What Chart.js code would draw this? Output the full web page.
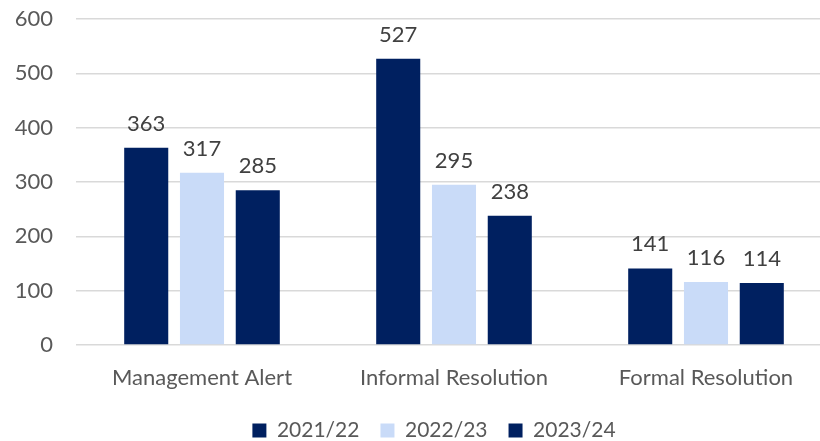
<!DOCTYPE html>
<html>
<head>
<meta charset="utf-8">
<script src="https://cdn.jsdelivr.net/npm/chart.js@4/dist/chart.umd.min.js"></script>
<style>
  html, body { margin: 0; padding: 0; background: #fff; overflow: hidden; }
  #wrap { width: 832px; height: 441px; position: relative; }
</style>
</head>
<body>
<div id="wrap"><canvas id="c"></canvas></div>
<script>
const categories = ["Management Alert", "Informal Resolution", "Formal Resolution"];
const seriesNames = ["2021/22", "2022/23", "2023/24"];
const values2122 = [363, 527, 141];
const values2223 = [317, 295, 116];
const values2324 = [285, 238, 114];
const yTicks = [0, 100, 200, 300, 400, 500, 600];

const DARK = "#002060";
const LIGHT = "#C9DBF8";
const FONT = "Lato, 'Open Sans', sans-serif";

const valueLabels = {
  id: "valueLabels",
  afterDatasetsDraw(chart) {
    const ctx = chart.ctx;
    ctx.save();
    ctx.font = "22px " + FONT;
    ctx.fillStyle = "#404040";
    ctx.textAlign = "center";
    ctx.textBaseline = "alphabetic";
    chart.data.datasets.forEach((ds, i) => {
      const meta = chart.getDatasetMeta(i);
      meta.data.forEach((bar, j) => {
        ctx.fillText(String(ds.data[j]), bar.x, bar.y - 17);
      });
    });
    ctx.restore();
  }
};

const placeLegend = {
  id: "placeLegend",
  afterLayout(chart) {
    const lg = chart.legend;
    if (!lg) return;
    const center = 434;
    const half = 250;
    lg.left = center - half;
    lg.right = center + half;
    lg.width = half * 2;
    lg.top += 10;
    lg.bottom += 10;
  }
};

new Chart(document.getElementById("c"), {
  type: "bar",
  data: {
    labels: categories,
    datasets: [
      { label: seriesNames[0], data: values2122, backgroundColor: DARK },
      { label: seriesNames[1], data: values2223, backgroundColor: LIGHT },
      { label: seriesNames[2], data: values2324, backgroundColor: DARK }
    ]
  },
  options: {
    responsive: true,
    maintainAspectRatio: false,
    animation: false,
    categoryPercentage: 0.664,
    barPercentage: 0.79,
    layout: { padding: 0 },
    scales: {
      x: {
        grid: { display: false, drawTicks: false },
        border: { display: false },
        ticks: { font: { family: FONT, size: 22 }, color: "#595959", padding: 20, maxRotation: 0 },
        afterFit(scale) { scale.height = 44; }
      },
      y: {
        min: 0, max: 600,
        afterBuildTicks(scale) { scale.ticks = yTicks.map(v => ({ value: v })); },
        grid: { color: "#D9D9D9", lineWidth: 1.5, drawTicks: false },
        border: { display: false },
        ticks: { font: { family: FONT, size: 22 }, color: "#595959", padding: 23 },
        afterFit(scale) {
          scale.width = 76;
          scale.paddingTop = 19;
          scale.paddingBottom = 0;
        }
      }
    },
    plugins: {
      legend: {
        position: "bottom",
        labels: {
          font: { family: FONT, size: 21 },
          color: "#595959",
          boxWidth: 14,
          boxHeight: 14,
          padding: 21
        }
      },
      tooltip: { enabled: false }
    }
  },
  plugins: [valueLabels, placeLegend]
});
</script>
</body>
</html>
